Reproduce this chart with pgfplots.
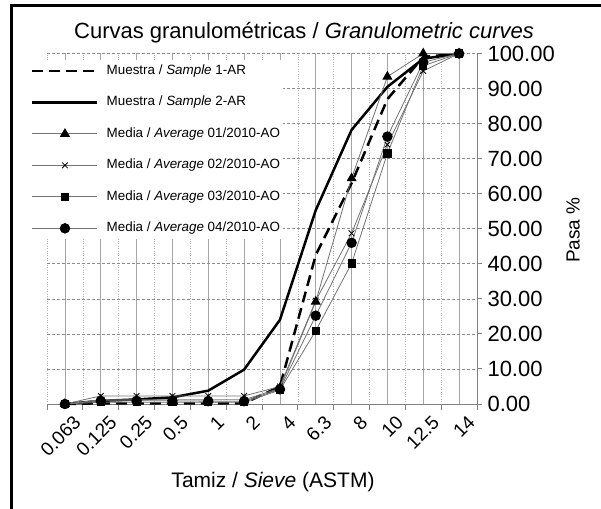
\documentclass[border=0pt]{standalone}
\usepackage{pgfplots}
\pgfplotsset{compat=1.18}
\usepackage{fontspec}
\setmainfont{Liberation Sans}
\begin{document}
\begin{tikzpicture}
\useasboundingbox (0,0) rectangle (601bp,509bp);
\begin{axis}[
  at={(47bp,105bp)}, anchor=south west,
  width=430bp, height=350.5bp, scale only axis,
  xmin=-0.5, xmax=11.5, ymin=0, ymax=100,
  clip=false,
  axis x line*=bottom, axis y line*=right,
  axis line style={draw=black!50, line width=0.9bp},
  xtick={0,...,11},
  xticklabels={0.063,0.125,0.25,0.5,1,2,4,6.3,8,10,12.5,14},
  minor xtick={-0.5,0.5,...,11.5},
  major x tick style={draw=none},
  minor x tick style={draw=black!50, line width=0.9bp},
  minor tick length=6bp,
  major tick length=5bp,
  tick align=outside,
  ytick={0,10,...,100},
  yticklabels={0.00,10.00,20.00,30.00,40.00,50.00,60.00,70.00,80.00,90.00,100.00},
  y tick style={draw=black!50, line width=0.9bp},
  xmajorgrids, xminorgrids, ymajorgrids,
  major x grid style={draw=black!35, line width=0.8bp},
  minor x grid style={draw=black!30, dotted, line width=0.6bp},
  major y grid style={draw=black!45, dash pattern=on 3bp off 2bp, line width=0.6bp},
  xticklabel style={font=\fontsize{19bp}{21bp}\selectfont, rotate=45, anchor=east, xshift=5bp, yshift=-16bp},
  yticklabel style={font=\fontsize{22bp}{24bp}\selectfont, anchor=west, xshift=2bp},
  legend style={at={(axis description cs:-0.0442,0.981)}, anchor=north west, draw=none, fill=white,
    font=\fontsize{13.4bp}{16bp}\selectfont, row sep=18.5bp, column sep=8bp, inner xsep=3bp, inner ysep=4bp,
    nodes={inner sep=0pt, text height=10bp, text depth=3bp}},
  legend cell align=left,
  legend image code/.code={\draw[mark repeat=2,mark phase=2,#1] plot coordinates {(0bp,0bp) (32.5bp,0bp) (65bp,0bp)};},
]
\addplot[black, line width=2.5bp, dash pattern=on 11bp off 6bp] coordinates {
(0,0) (1,0.2) (2,0.2) (3,0.2) (4,0.2) (5,0.2) (6,5.0) (7,42.5) (8,63) (9,87) (10,99) (11,100)};
\addlegendentry{Muestra / \textit{Sample} 1-AR}
\addplot[black, line width=2.5bp] coordinates {
(0,0) (1,0.9) (2,1.3) (3,1.9) (4,3.8) (5,9.8) (6,24.0) (7,55.3) (8,78.2) (9,90.5) (10,98.5) (11,100)};
\addlegendentry{Muestra / \textit{Sample} 2-AR}
\addplot[black!55, line width=0.8bp, mark=triangle*, mark size=5bp, mark options={solid, fill=black, draw=black}] coordinates {
(0,0) (1,1.2) (2,1.2) (3,1.2) (4,1.2) (5,1.2) (6,4.5) (7,29.2) (8,64.4) (9,93.4) (10,100) (11,100)};
\addlegendentry{Media / \textit{Average} 01/2010-AO}
\addplot[black!55, line width=0.8bp, mark=x, mark size=4bp, mark options={solid, draw=black, line width=0.8bp}] coordinates {
(0,0) (1,2.3) (2,2.3) (3,2.3) (4,2.3) (5,2.3) (6,5.0) (7,29.5) (8,48.7) (9,74) (10,95) (11,100)};
\addlegendentry{Media / \textit{Average} 02/2010-AO}
\addplot[black!55, line width=0.8bp, mark=square*, mark size=3.6bp, mark options={solid, fill=black, draw=black}] coordinates {
(0,0) (1,0.5) (2,0.5) (3,0.5) (4,0.5) (5,0.5) (6,4.0) (7,20.9) (8,40.1) (9,71.5) (10,96.5) (11,100)};
\addlegendentry{Media / \textit{Average} 03/2010-AO}
\addplot[black!55, line width=0.8bp, mark=*, mark size=4.8bp, mark options={solid, fill=black, draw=black}] coordinates {
(0,0) (1,0.9) (2,0.9) (3,0.9) (4,0.8) (5,0.8) (6,4.2) (7,25.2) (8,46.0) (9,76.3) (10,97.5) (11,100)};
\addlegendentry{Media / \textit{Average} 04/2010-AO}
\end{axis}
\node[font=\fontsize{22bp}{26bp}\selectfont] at (304bp,476bp) {Curvas granulométricas / \textit{Granulometric curves}};
\node[font=\fontsize{21bp}{24bp}\selectfont] at (273bp,27bp) {Tamiz / \textit{Sieve} (ASTM)};
\node[font=\fontsize{19bp}{22bp}\selectfont, rotate=90] at (573bp,279bp) {Pasa \%};
\draw[line width=3bp] (11bp,0bp) -- (11bp,503bp) -- (601bp,503bp);
\end{tikzpicture}
\end{document}
